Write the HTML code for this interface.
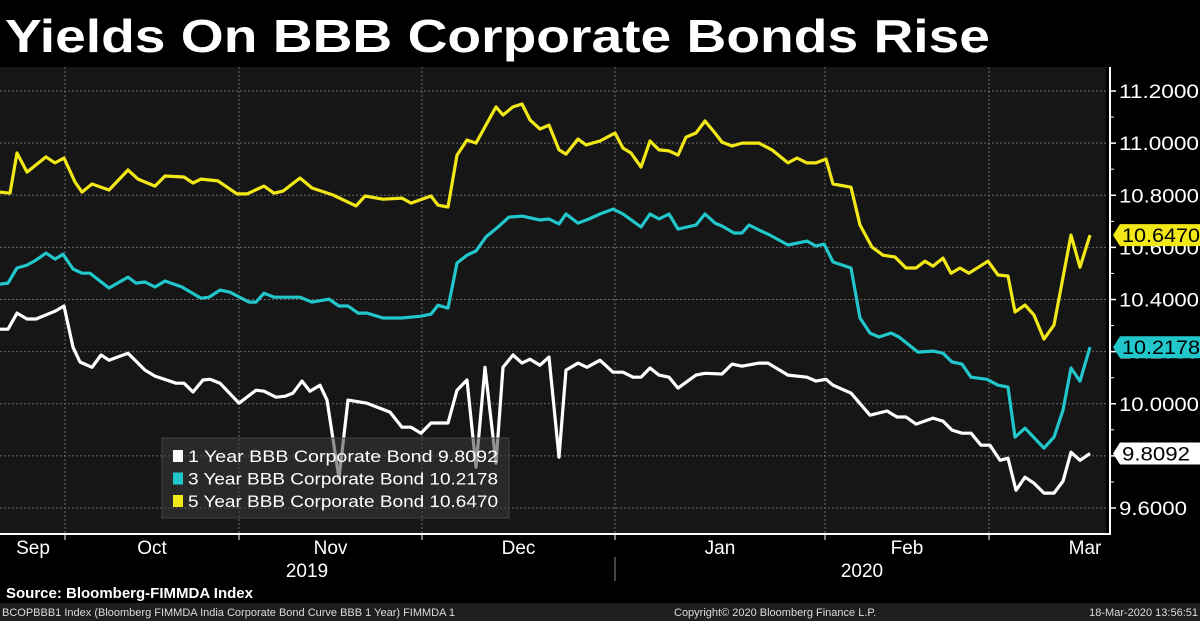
<!DOCTYPE html>
<html><head><meta charset="utf-8"><style>
html,body{margin:0;padding:0;background:#000;width:1200px;height:621px;overflow:hidden}
svg{display:block}
text{font-family:"Liberation Sans","DejaVu Sans",sans-serif}
</style></head><body>
<svg id="chart" width="1200" height="621" viewBox="0 0 1200 621">
<rect x="0" y="0" width="1200" height="621" fill="#000"/>
<text x="5" y="52" font-size="46" font-weight="bold" fill="#fff" textLength="985" lengthAdjust="spacingAndGlyphs">Yields On BBB Corporate Bonds Rise</text>
<rect x="0" y="67" width="1106" height="466" fill="#161616"/>
<g id="grid"></g>
<g id="series"></g>
<g id="legend"></g>
<g id="axes"></g>
<rect x="0" y="582" width="1200" height="21" fill="#000"/>
<text x="6" y="598" font-size="15" font-weight="bold" fill="#fff">Source: Bloomberg-FIMMDA Index</text>
<rect x="0" y="603" width="1200" height="18" fill="#1e1e1e"/>
<text x="2" y="616" font-size="11" fill="#ddd">BCOPBBB1 Index (Bloomberg FIMMDA India Corporate Bond Curve BBB 1 Year) FIMMDA 1</text>
<text x="674" y="616" font-size="11" fill="#ddd">Copyright© 2020 Bloomberg Finance L.P.</text>
<text x="1198" y="616" font-size="11" fill="#ddd" text-anchor="end">18-Mar-2020 13:56:51</text>
</svg>
<script>
// session index (0 = start of Sep, 109 = Mar 17)
const monthNames = ["Sep","Oct","Nov","Dec","Jan","Feb","Mar"];
const monthStarts = [-3, 6.5, 23.9, 42.2, 61.5, 82.5, 98.9, 118];
const yearNames = ["2019","2020"];
const yTicks = [9.6, 9.8, 10.0, 10.2, 10.4, 10.6, 10.8, 11.0, 11.2];

const t5 = [0,1,1.7,2.7,4.6,5.5,6.4,7.5,8.2,9.2,10.9,12.8,13.8,15.5,16.5,18.4,19.3,20.1,21.8,23.7,24.7,26.4,27.4,28.3,30,31.2,33.3,35.6,36.5,38.3,40.2,41.1,43.1,43.8,44.8,45.7,46.7,47.6,49.6,50.3,51.3,52.2,53,54,54.9,55.9,56.6,57.8,58.6,60,61.5,62.3,63.1,64.1,65,65.9,66.9,67.8,68.6,69.6,70.5,71.5,72.2,73.2,74.2,75.9,77.2,78.8,79.7,80.7,81.6,82.6,83.3,85.1,86,87.2,88.3,89.5,90.6,91.6,92.5,93.3,94.3,95.1,96,96.9,98.8,99.8,100.8,101.5,102.5,103.4,104.4,105.4,107.1,108,109];
const v5 = [10.812,10.808,10.962,10.889,10.947,10.924,10.943,10.851,10.812,10.843,10.820,10.897,10.862,10.835,10.874,10.870,10.847,10.862,10.855,10.805,10.805,10.835,10.808,10.816,10.866,10.828,10.801,10.759,10.797,10.785,10.789,10.770,10.797,10.762,10.755,10.954,11.012,11.000,11.139,11.108,11.139,11.150,11.089,11.054,11.069,10.974,10.958,11.016,10.993,11.008,11.039,10.981,10.962,10.908,11.008,10.974,10.970,10.954,11.023,11.039,11.085,11.039,11.004,10.989,11.000,11.000,10.974,10.924,10.943,10.924,10.924,10.939,10.843,10.831,10.686,10.601,10.570,10.563,10.521,10.521,10.547,10.528,10.559,10.501,10.521,10.501,10.547,10.494,10.490,10.352,10.379,10.340,10.248,10.302,10.647,10.524,10.647];

const t3 = [0,0.8,1.7,2.7,3.6,4.6,5.5,6.3,7.3,8.2,9,10.9,12.8,13.6,14.5,15.5,16.5,18.2,20.1,20.9,22,23,24.9,25.6,26.4,27.4,30,31.2,32.9,33.9,34.8,35.8,36.7,38.3,40.2,42.1,43.1,43.8,44.8,45.7,46.7,47.6,48.6,49.8,50.9,52.2,54,54.9,55.9,56.6,57.8,58.9,60,61.3,62.3,64.1,65,65.9,66.9,67.8,69.6,70.5,71.5,72.2,73.4,74.2,74.9,76.1,77,78.8,80.7,81.6,82.4,83.3,85.1,86,87,87.9,89.1,89.9,91.8,93.3,94.3,95.2,96.2,97.1,98.7,99.8,100.8,101.5,102.5,104.4,105.4,106.3,107.1,108,109];
const v3 = [10.459,10.463,10.521,10.532,10.551,10.578,10.555,10.574,10.517,10.501,10.501,10.444,10.486,10.463,10.467,10.448,10.471,10.448,10.405,10.409,10.436,10.428,10.390,10.390,10.424,10.409,10.409,10.390,10.401,10.375,10.375,10.348,10.348,10.329,10.329,10.336,10.344,10.378,10.367,10.540,10.570,10.586,10.640,10.678,10.716,10.720,10.705,10.709,10.690,10.728,10.693,10.709,10.728,10.747,10.728,10.678,10.728,10.709,10.728,10.670,10.686,10.728,10.693,10.682,10.655,10.655,10.686,10.663,10.647,10.609,10.624,10.605,10.613,10.544,10.521,10.329,10.271,10.256,10.271,10.256,10.198,10.202,10.194,10.160,10.152,10.102,10.094,10.071,10.064,9.872,9.906,9.830,9.872,9.975,10.137,10.087,10.217];

const t1 = [0,0.8,1.7,2.7,3.6,5.5,6.4,7.3,8,9.2,10.1,10.9,12.8,14.5,15.5,17.6,18.4,19.3,20.3,21,22,23.9,25.6,26.4,27.6,28.5,29.3,30.2,31,32,32.7,33.9,34.8,36.7,37.7,39,40.2,41.1,42.1,43.1,44.8,45.7,46.7,47.6,48.5,49.6,50.3,51.3,52.2,53,54,54.9,55.9,56.6,57.8,58.7,60,61.3,62.3,63.3,64.1,65,65.9,66.9,67.8,69.6,70.5,72.2,73.2,74.2,75.9,76.8,78.8,80.7,81.6,82.6,83.3,85.1,87,88.7,89.7,90.6,91.6,93.3,94.3,95.2,96.2,97.1,98.1,99,100,100.8,101.6,102.5,103.4,104.4,105.4,106.3,107.1,108,109];
const v1 = [10.286,10.286,10.348,10.325,10.325,10.355,10.375,10.217,10.160,10.140,10.187,10.167,10.194,10.129,10.106,10.079,10.079,10.045,10.091,10.094,10.079,10.002,10.052,10.048,10.025,10.029,10.041,10.087,10.048,10.071,10.014,9.714,10.014,10.002,9.987,9.968,9.910,9.910,9.887,9.926,9.926,10.052,10.091,9.757,10.140,9.772,10.140,10.187,10.156,10.171,10.148,10.179,9.795,10.129,10.156,10.140,10.167,10.121,10.121,10.102,10.102,10.137,10.110,10.102,10.060,10.110,10.117,10.114,10.152,10.144,10.156,10.156,10.110,10.102,10.087,10.094,10.071,10.041,9.956,9.972,9.949,9.949,9.922,9.945,9.933,9.899,9.887,9.887,9.841,9.841,9.783,9.791,9.668,9.718,9.695,9.657,9.657,9.703,9.814,9.783,9.809];

const seriesNames = ["1 Year BBB Corporate Bond","3 Year BBB Corporate Bond","5 Year BBB Corporate Bond"];
const lastValues = ["9.8092","10.2178","10.6470"];

const NS = "http://www.w3.org/2000/svg";
const PL = 0, PR = 1090, T0 = 0, T1 = 109;
const Y0 = 9.6, Y1 = 11.2, PY0 = 508, PY1 = 91;
function xs(t){ return PL + (t - T0) / (T1 - T0) * (PR - PL); }
function ys(v){ return PY0 + (v - Y0) / (Y1 - Y0) * (PY1 - PY0); }
function mk(tag, attrs, parent){
  const e = document.createElementNS(NS, tag);
  for (const k in attrs) e.setAttribute(k, attrs[k]);
  parent.appendChild(e);
  return e;
}
const grid = document.getElementById("grid");
const series = document.getElementById("series");
const legend = document.getElementById("legend");
const axes = document.getElementById("axes");

yTicks.forEach(v => {
  const l = mk("line", {x1:0, x2:1106, y1:ys(v), y2:ys(v), stroke:"#6a6a6a", "stroke-width":1, "stroke-dasharray":"2,2"}, grid);
  
  
});
for (let i = 1; i < monthStarts.length - 1; i++) {
  const x = xs(monthStarts[i]);
  const l = mk("line", {x1:x, x2:x, y1:67, y2:533, stroke:"#6a6a6a", "stroke-width":1, "stroke-dasharray":"2,2"}, grid);
  
  
}

function drawLine(ts, vs, color, name){
  const d = ts.map((t,i) => (i ? "L" : "M") + xs(t).toFixed(1) + "," + ys(vs[i]).toFixed(1)).join("");
  const p = mk("path", {d:d, fill:"none", stroke:color, "stroke-width":3.2, "stroke-linejoin":"round"}, series);
  
  
}
drawLine(t5, v5, "#f2e817", "line-5-year");
drawLine(t3, v3, "#22c7cc", "line-3-year");
drawLine(t1, v1, "#ffffff", "line-1-year");

// legend
const lb = mk("rect", {x:162, y:438, width:347, height:80, fill:"#3a3a3a", "fill-opacity":0.55, stroke:"#444"}, legend);


const lcolors = ["#ffffff","#22c7cc","#f2e817"];
seriesNames.forEach((n,i) => {
  const y = 462 + i*22.5;
  const s = mk("rect", {x:173, y:y-12, width:10, height:12, fill:lcolors[i]}, legend);
  
  
  const t = mk("text", {x:188, y:y, "font-size":17, fill:"#fff", textLength:310, lengthAdjust:"spacingAndGlyphs"}, legend);
  t.textContent = n + " " + lastValues[i];
  
  
});

// axes
const ax = mk("rect", {x:1106, y:67, width:94, height:466, fill:"#000"}, axes);


const al = mk("line", {x1:1110, x2:1110, y1:67, y2:535, stroke:"#fff", "stroke-width":2}, axes);


const xl = mk("line", {x1:0, x2:1110, y1:534, y2:534, stroke:"#fff", "stroke-width":2}, axes);


yTicks.forEach((v,i) => {
  const tk = mk("line", {x1:1110, x2:1116, y1:ys(v), y2:ys(v), stroke:"#fff", "stroke-width":1.5}, axes);
  
  
  if (i < yTicks.length - 1) {
    const m = ys(v + 0.1);
    const mt = mk("line", {x1:1110, x2:1114, y1:m, y2:m, stroke:"#fff", "stroke-width":1}, axes);
    
    
  }
  const t = mk("text", {x:1119, y:ys(v)+7, "font-size":19, fill:"#fff", textLength: v < 10 ? 68 : 80, lengthAdjust:"spacingAndGlyphs"}, axes);
  t.textContent = v.toFixed(4);
  
  
});
// last-value tags
const tagVals = [v1[v1.length-1], v3[v3.length-1], v5[v5.length-1]];
const tagFill = ["#ffffff","#22c7cc","#f2e817"];
tagVals.forEach((v,i) => {
  const y = ys(v);
  const g = mk("polygon", {points:`1113,${y} 1120,${y-11} 1200,${y-11} 1200,${y+11} 1120,${y+11}`, fill:tagFill[i]}, axes);
  
  
  const t = mk("text", {x:1122, y:y+7, "font-size":19, fill:"#000", textLength: i==0 ? 68 : 78, lengthAdjust:"spacingAndGlyphs"}, axes);
  t.textContent = lastValues[i];
  
  
});
// month labels
monthNames.forEach((m,i) => {
  let a = Math.max(monthStarts[i], 0), b = Math.min(monthStarts[i+1], 112);
  let cx = (xs(a) + xs(b)) / 2;
  if (i === 0) cx = 33;
  if (i === monthNames.length - 1) cx = 1085;
  const t = mk("text", {x:cx, y:554, "font-size":19, fill:"#fff", "text-anchor":"middle"}, axes);
  t.textContent = m;
  
  
  if (i > 0) {
    const x = xs(monthStarts[i]);
    const tk = mk("line", {x1:x, x2:x, y1:534, y2:540, stroke:"#fff", "stroke-width":1}, axes);
    
    
  }
});
const yc = [307, 862];
yearNames.forEach((y,i) => {
  const t = mk("text", {x:yc[i], y:577, "font-size":19, fill:"#fff", "text-anchor":"middle"}, axes);
  t.textContent = y;
  
  
});
const yd = mk("line", {x1:xs(monthStarts[4]), x2:xs(monthStarts[4]), y1:557, y2:581, stroke:"#888", "stroke-width":1}, axes);


</script>
</body></html>
